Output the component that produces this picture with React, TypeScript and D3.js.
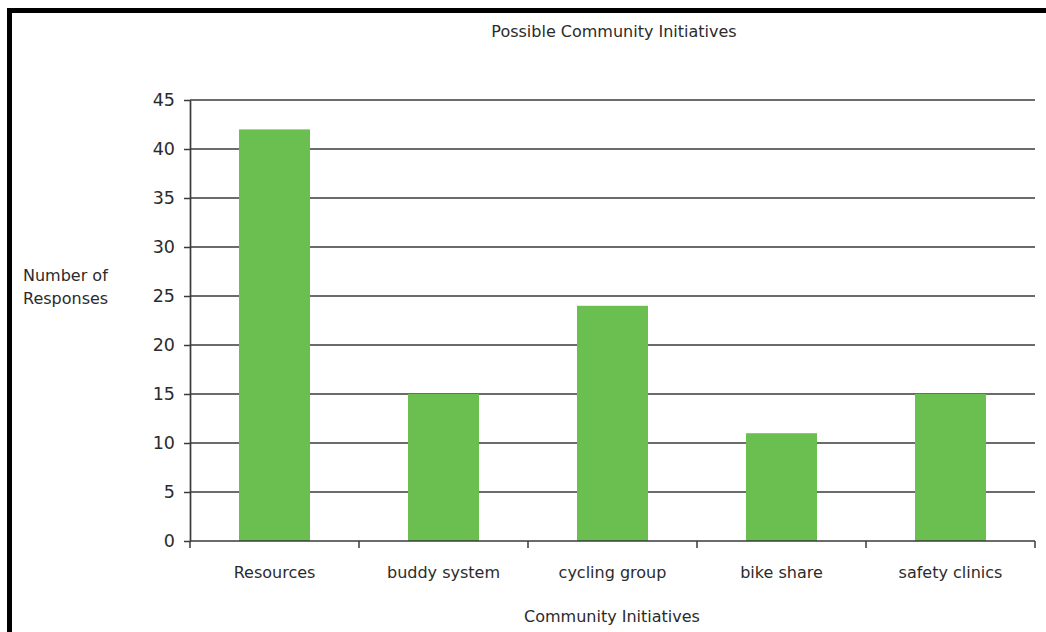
import React, { useRef, useEffect } from 'react';
import * as d3 from 'd3';

const categories = ['Resources', 'buddy system', 'cycling group', 'bike share', 'safety clinics'];
const responses = [42, 15, 24, 11, 15];
const yTicks = [0, 5, 10, 15, 20, 25, 30, 35, 40, 45];

const width = 1046;
const height = 632;
const margin = { top: 100, right: 11, bottom: 91, left: 190 };
const font = '"DejaVu Sans", Verdana, sans-serif';
const textColor = '#2b2b2b';
const lineColor = '#3a3a3a';

const App: React.FC = () => {
  const ref = useRef<SVGSVGElement>(null);

  useEffect(() => {
    const svg = d3.select(ref.current);
    svg.selectAll('*').remove();

    const x = d3
      .scaleBand()
      .domain(categories)
      .range([margin.left, width - margin.right])
      .paddingInner(0.58)
      .paddingOuter(0.29);

    const y = d3
      .scaleLinear()
      .domain([0, 45])
      .range([height - margin.bottom, margin.top]);

    // frame (left + top edges only, as in the scan)
    svg.append('rect').attr('x', 7).attr('y', 8).attr('width', width - 7).attr('height', 5).attr('fill', '#000');
    svg.append('rect').attr('x', 7).attr('y', 8).attr('width', 5).attr('height', height - 8).attr('fill', '#000');

    // gridlines
    svg
      .append('g')
      .selectAll('line')
      .data(yTicks.filter((d) => d > 0))
      .join('line')
      .attr('x1', margin.left)
      .attr('x2', width - margin.right)
      .attr('y1', (d) => y(d))
      .attr('y2', (d) => y(d))
      .attr('stroke', lineColor)
      .attr('stroke-width', 1.7);

    // bars
    svg
      .append('g')
      .selectAll('rect')
      .data(responses)
      .join('rect')
      .attr('x', (d, i) => x(categories[i]) ?? 0)
      .attr('y', (d) => y(d))
      .attr('width', x.bandwidth())
      .attr('height', (d) => y(0) - y(d))
      .attr('fill', '#6abf50');

    // y axis
    const yAxis = svg
      .append('g')
      .attr('transform', `translate(${margin.left},0)`)
      .call(d3.axisLeft(y).tickValues(yTicks).tickSize(6).tickPadding(9).tickSizeOuter(0));
    yAxis.select('.domain').attr('stroke', lineColor).attr('stroke-width', 1.7);
    yAxis.selectAll('.tick line').attr('stroke', lineColor).attr('stroke-width', 1.5);
    yAxis
      .selectAll('.tick text')
      .attr('fill', textColor)
      .style('font-family', font)
      .style('font-size', '17.5px');

    // x axis: ticks at band boundaries
    const xAxisG = svg.append('g').attr('transform', `translate(0,${y(0)})`);
    xAxisG
      .append('line')
      .attr('x1', margin.left)
      .attr('x2', width - margin.right)
      .attr('stroke', lineColor)
      .attr('stroke-width', 1.7);
    const step = x.step();
    const start = margin.left;
    xAxisG
      .selectAll('line.tick')
      .data(d3.range(categories.length + 1))
      .join('line')
      .attr('class', 'tick')
      .attr('x1', (i) => start + i * step)
      .attr('x2', (i) => start + i * step)
      .attr('y1', 0)
      .attr('y2', 7)
      .attr('stroke', lineColor)
      .attr('stroke-width', 1.5);
    xAxisG
      .selectAll('text')
      .data(categories)
      .join('text')
      .attr('x', (d) => (x(d) ?? 0) + x.bandwidth() / 2)
      .attr('y', 37)
      .attr('text-anchor', 'middle')
      .attr('fill', textColor)
      .style('font-family', font)
      .style('font-size', '16px')
      .text((d) => d);

    // titles
    svg
      .append('text')
      .attr('x', 614)
      .attr('y', 37)
      .attr('text-anchor', 'middle')
      .attr('fill', textColor)
      .style('font-family', font)
      .style('font-size', '16px')
      .text('Possible Community Initiatives');

    svg
      .append('text')
      .attr('x', 612)
      .attr('y', 622)
      .attr('text-anchor', 'middle')
      .attr('fill', textColor)
      .style('font-family', font)
      .style('font-size', '16px')
      .text('Community Initiatives');

    const yTitle = svg
      .append('text')
      .attr('fill', textColor)
      .style('font-family', font)
      .style('font-size', '16px');
    yTitle.append('tspan').attr('x', 23).attr('y', 281).text('Number of');
    yTitle.append('tspan').attr('x', 23).attr('y', 304).text('Responses');
  }, []);

  return (
    <svg
      ref={ref}
      width={width}
      height={height}
      style={{ position: 'absolute', left: 0, top: 0, background: '#fff' }}
    />
  );
};

export default App;
